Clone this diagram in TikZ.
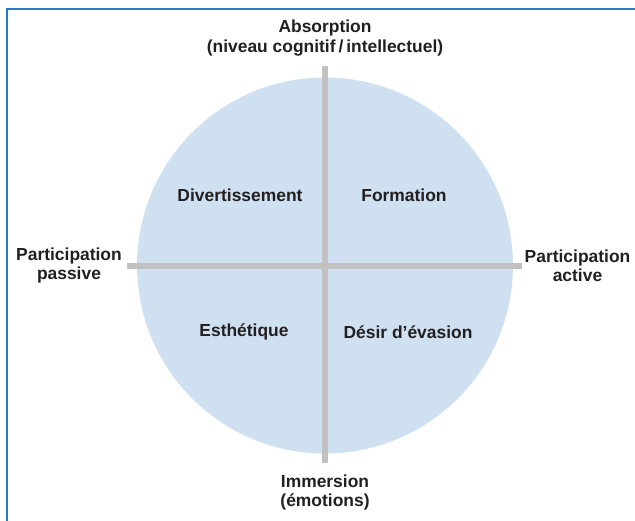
\documentclass[tikz,border=0pt]{standalone}
\usepackage{fontspec}
\setmainfont{Liberation Sans}
\usepackage{xcolor}
\usetikzlibrary{positioning}
\definecolor{discBlue}{RGB}{207,224,240}
\definecolor{barGray}{RGB}{193,193,193}
\definecolor{frameBlue}{RGB}{38,122,200}
\definecolor{inkDark}{RGB}{35,31,32}

\begin{document}
\begin{tikzpicture}[
    x=1bp, y=-1bp,
    label text/.style={align=center, inner sep=0pt, text=inkDark, font=\bfseries\fontsize{17.5}{19.5}\selectfont},
    quadrant/.style={label text},
    axis bar/.style={draw=barGray, line width=6bp},
    disc/.style={circle, fill=discBlue, minimum size=376bp, inner sep=0pt}
]
    \useasboundingbox (0,0) rectangle (635,521);
    \draw[frameBlue, line width=1.5bp] (7,521) -- (7,9) -- (635,9);

    \node[disc] (experience) at (325,265.5) {};

    \coordinate (absorption end) at (325,66);
    \coordinate (immersion end) at (325,463);
    \coordinate (passive end) at (127,265.5);
    \coordinate (active end) at (522,265.5);

    \draw[axis bar] (passive end) -- (active end);
    \draw[axis bar] (absorption end) -- (immersion end);

    \node[label text] (absorption) at (325,38) {Absorption\\(niveau cognitif\,/\,intellectuel)};
    \node[label text] (immersion) at (325,492.5) {Immersion\\(émotions)};
    \node[label text] (passive) at (69,265.5) {Participation\\passive};
    \node[label text] (active) at (577.5,265.5) {Participation\\active};

    \node[quadrant] (divertissement) at (240,195) {Divertissement};
    \node[quadrant] (formation) at (404,195) {Formation};
    \node[quadrant] (esthetique) at (244,332) {Esthétique};
    \node[quadrant] (evasion) at (408,332) {Désir d’évasion};
\end{tikzpicture}
\end{document}
